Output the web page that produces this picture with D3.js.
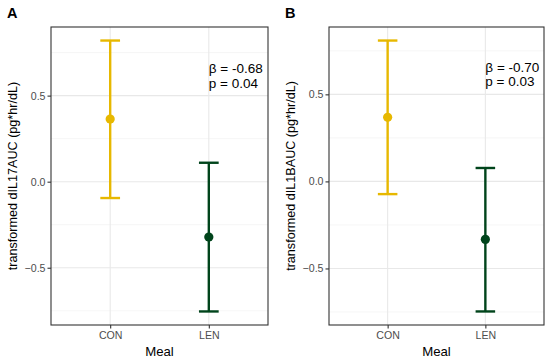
<!DOCTYPE html>
<html>
<head>
<meta charset="utf-8">
<script src="https://cdn.jsdelivr.net/npm/d3@7"></script>
<style>
 body { margin: 0; background: #fff; }
 text { font-family: "Liberation Sans", Arial, sans-serif; }
</style>
</head>
<body>
<div id="chart"></div>
<script>
// data
var meals = ["CON", "LEN"];
var colors = ["#E7B800", "#00441B"];

var estA = [0.364, -0.322];
var lowA = [-0.095, -0.754];
var highA = [0.820, 0.110];

var estB = [0.368, -0.333];
var lowB = [-0.073, -0.747];
var highB = [0.809, 0.077];

var yTicks = [-0.5, 0, 0.5];
var yMinor = [-0.75, -0.25, 0.25, 0.75];

var panels = [
  { tag: "A", ytitle: "transformed dIL17AUC (pg*hr/dL)", est: estA, low: lowA, high: highA, beta: "β = -0.68", p: "p = 0.04", left: 51, right: 268 },
  { tag: "B", ytitle: "transformed dIL1BAUC (pg*hr/dL)", est: estB, low: lowB, high: highB, beta: "β = -0.70", p: "p = 0.03", left: 329, right: 544 }
];
var annotY = 0.61;

var width = 550,
    height = 363,
    plotTop = 27,
    plotBottom = 325;

var svg = d3.select("#chart")
  .append("svg")
  .attr("width", width)
  .attr("height", height);

var fmt = function(d){
  return d3.format(".1f")(d).replace("-", "\u2212");
};

panels.forEach(function(pn){
  var lo = d3.min(pn.low), hi = d3.max(pn.high);
  var pad = (hi - lo) * 0.05;

  var x = d3.scalePoint()
    .domain(meals)
    .range([pn.left, pn.right])
    .padding(0.6);

  var y = d3.scaleLinear()
    .domain([lo - pad, hi + pad])
    .range([plotBottom, plotTop]);

  var g = svg.append("g");

  // background grid
  g.selectAll(".minor")
    .data(yMinor.filter(function(d){ return d > lo - pad && d < hi + pad; }))
    .enter().append("line")
    .attr("x1", pn.left).attr("x2", pn.right)
    .attr("y1", function(d){ return y(d); })
    .attr("y2", function(d){ return y(d); })
    .attr("stroke", "#f0f0f0")
    .attr("stroke-width", 0.6);

  g.selectAll(".major")
    .data(yTicks)
    .enter().append("line")
    .attr("x1", pn.left).attr("x2", pn.right)
    .attr("y1", function(d){ return y(d); })
    .attr("y2", function(d){ return y(d); })
    .attr("stroke", "#e8e8e8")
    .attr("stroke-width", 1.1);

  g.selectAll(".vgrid")
    .data(meals)
    .enter().append("line")
    .attr("x1", function(d){ return x(d); })
    .attr("x2", function(d){ return x(d); })
    .attr("y1", plotTop).attr("y2", plotBottom)
    .attr("stroke", "#e8e8e8")
    .attr("stroke-width", 1.1);

  // error bars
  var capHalf = x.step() * 0.1;
  var bars = g.selectAll(".bar")
    .data(meals)
    .enter().append("g");

  bars.append("line")
    .attr("x1", function(d){ return x(d); })
    .attr("x2", function(d){ return x(d); })
    .attr("y1", function(d, i){ return y(pn.low[i]); })
    .attr("y2", function(d, i){ return y(pn.high[i]); })
    .attr("stroke", function(d, i){ return colors[i]; })
    .attr("stroke-width", 2.4);

  bars.append("line")
    .attr("x1", function(d){ return x(d) - capHalf; })
    .attr("x2", function(d){ return x(d) + capHalf; })
    .attr("y1", function(d, i){ return y(pn.low[i]); })
    .attr("y2", function(d, i){ return y(pn.low[i]); })
    .attr("stroke", function(d, i){ return colors[i]; })
    .attr("stroke-width", 2.4);

  bars.append("line")
    .attr("x1", function(d){ return x(d) - capHalf; })
    .attr("x2", function(d){ return x(d) + capHalf; })
    .attr("y1", function(d, i){ return y(pn.high[i]); })
    .attr("y2", function(d, i){ return y(pn.high[i]); })
    .attr("stroke", function(d, i){ return colors[i]; })
    .attr("stroke-width", 2.4);

  bars.append("circle")
    .attr("cx", function(d){ return x(d); })
    .attr("cy", function(d, i){ return y(pn.est[i]); })
    .attr("r", 4.6)
    .attr("fill", function(d, i){ return colors[i]; });

  // annotation
  var ann = g.append("text")
    .attr("x", x("LEN"))
    .attr("y", y(annotY))
    .attr("font-size", 13.5)
    .attr("fill", "#000");
  ann.append("tspan").attr("x", x("LEN")).attr("dy", "-0.25em").text(pn.beta);
  ann.append("tspan").attr("x", x("LEN")).attr("dy", "1.07em").text(pn.p);

  // panel border
  g.append("rect")
    .attr("x", pn.left).attr("y", plotTop)
    .attr("width", pn.right - pn.left)
    .attr("height", plotBottom - plotTop)
    .attr("fill", "none")
    .attr("stroke", "#333333")
    .attr("stroke-width", 1.1);

  // axes
  var yAxis = g.append("g")
    .attr("transform", "translate(" + pn.left + ",0)")
    .call(d3.axisLeft(y).tickValues(yTicks).tickFormat(fmt).tickSize(3.5).tickPadding(2));
  yAxis.select(".domain").remove();
  yAxis.selectAll("line").attr("stroke", "#333333").attr("stroke-width", 1.1);
  yAxis.selectAll("text").attr("fill", "#4d4d4d").attr("font-size", 10.6)
    .attr("font-family", "'Liberation Sans', Arial, sans-serif");

  var xAxis = g.append("g")
    .attr("transform", "translate(0," + plotBottom + ")")
    .call(d3.axisBottom(x).tickSize(3.5).tickPadding(2.5));
  xAxis.select(".domain").remove();
  xAxis.selectAll("line").attr("stroke", "#333333").attr("stroke-width", 1.1);
  xAxis.selectAll("text").attr("fill", "#4d4d4d").attr("font-size", 10.6)
    .attr("font-family", "'Liberation Sans', Arial, sans-serif");

  // titles
  g.append("text")
    .attr("x", (pn.left + pn.right) / 2)
    .attr("y", 355.5)
    .attr("text-anchor", "middle")
    .attr("font-size", 13.2)
    .attr("fill", "#000")
    .text("Meal");

  g.append("text")
    .attr("transform", "translate(" + (pn.left - 34.5) + "," + ((plotTop + plotBottom) / 2) + ") rotate(-90)")
    .attr("text-anchor", "middle")
    .attr("font-size", 12.6)
    .attr("fill", "#000")
    .text(pn.ytitle);

  g.append("text")
    .attr("x", pn.left - 44)
    .attr("y", 17.5)
    .attr("font-size", 14.5)
    .attr("font-weight", "bold")
    .attr("fill", "#000")
    .text(pn.tag);
});
</script>
</body>
</html>
